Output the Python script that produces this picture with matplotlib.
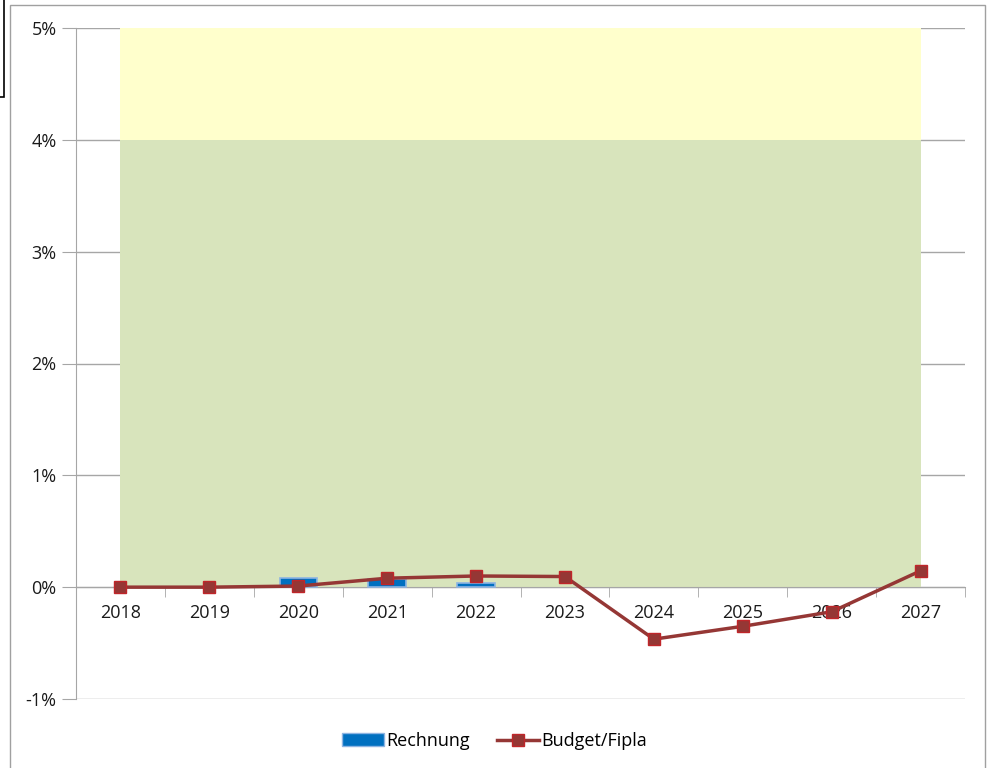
import matplotlib.pyplot as plt
import matplotlib.ticker as mticker
from matplotlib.patches import Rectangle, Patch
from matplotlib.lines import Line2D
import numpy as np

plt.rcParams.update({
    "font.family": ["Open Sans", "DejaVu Sans"],
    "font.size": 13,
})

# Data
years = ["2018", "2019", "2020", "2021", "2022", "2023", "2024", "2025", "2026", "2027"]
rechnung = [np.nan, np.nan, 0.078, 0.07, 0.033, np.nan, np.nan, np.nan, np.nan, np.nan]
budget = [0.0, 0.0, 0.01, 0.08, 0.10, 0.095, -0.465, -0.35, -0.22, 0.146]
band_green = [4.0] * 10
band_yellow = [5.0] * 10

GREEN, YELLOW = "#D8E4BC", "#FFFFCC"
BLUE, BLUE_EDGE = "#0070C0", "#8DB4E2"
LINE, MARK_EDGE = "#953735", "#C0262A"
GRID = "#A6A6A6"
TXT = "#1a1a1a"

fig = plt.figure(figsize=(9.89, 7.68), dpi=100)
ax = fig.add_axes([76 / 989, 1 - 699 / 768, 889 / 989, 671 / 768])

x = np.arange(len(years))
ax.fill_between(x, band_green, band_yellow, color=YELLOW, lw=0, zorder=1)
ax.fill_between(x, 0, band_green, color=GREEN, lw=0, zorder=1)

for v in range(-1, 6):
    ax.axhline(v, color=GRID, lw=1, zorder=0.5)

ax.bar(x, rechnung, width=0.42, color=BLUE, edgecolor=BLUE_EDGE, lw=1.2, zorder=3)
ax.plot(x, budget, color=LINE, lw=2.5, marker="s", ms=8.5,
        mfc=LINE, mec=MARK_EDGE, mew=1, zorder=4)

ax.set_xlim(-0.5, 9.5)
ax.set_ylim(-1, 5)
ax.yaxis.set_major_locator(mticker.MultipleLocator(1))
ax.yaxis.set_major_formatter(mticker.FuncFormatter(lambda v, _: f"{v:.0f}%"))
ax.set_xticks(x)
ax.set_xticklabels(years)
ax.set_xticks(np.arange(-0.5, 10, 1), minor=True)

for s in ["top", "right"]:
    ax.spines[s].set_visible(False)
ax.spines["bottom"].set_position(("data", 0))
ax.spines["bottom"].set_color(GRID)
ax.spines["left"].set_color(GRID)
ax.spines["bottom"].set_zorder(2)
ax.tick_params(axis="x", which="major", length=0, pad=12, colors=TXT)
ax.tick_params(axis="x", which="minor", length=7, color=GRID, direction="out")
ax.tick_params(axis="y", length=10, color=GRID, pad=4, labelcolor=TXT)

handles = [
    Patch(facecolor=BLUE, edgecolor=BLUE_EDGE, label="Rechnung"),
    Line2D([], [], color=LINE, lw=2.5, marker="s", ms=8.5, mfc=LINE,
           mec=MARK_EDGE, label="Budget/Fipla"),
]
fig.legend(handles=handles, loc="center", bbox_to_anchor=(0.5, 1 - 741 / 768),
           ncol=2, frameon=False, handlelength=2.3, handletextpad=0.15,
           columnspacing=1.5, fontsize=13)

# chart frame and small box at top left
fig.patches.append(Rectangle((10 / 989, -0.01), 975 / 989, 1.01 - 5 / 768,
                             transform=fig.transFigure, fill=False,
                             edgecolor="#A0A0A0", lw=1))
fig.patches.append(Rectangle((-0.01, 1 - 97 / 768), 0.01 + 4 / 989, 0.02 + 97 / 768,
                             transform=fig.transFigure, fill=False,
                             edgecolor="black", lw=1.2))

plt.savefig("out.png", dpi=100)
plt.close()
